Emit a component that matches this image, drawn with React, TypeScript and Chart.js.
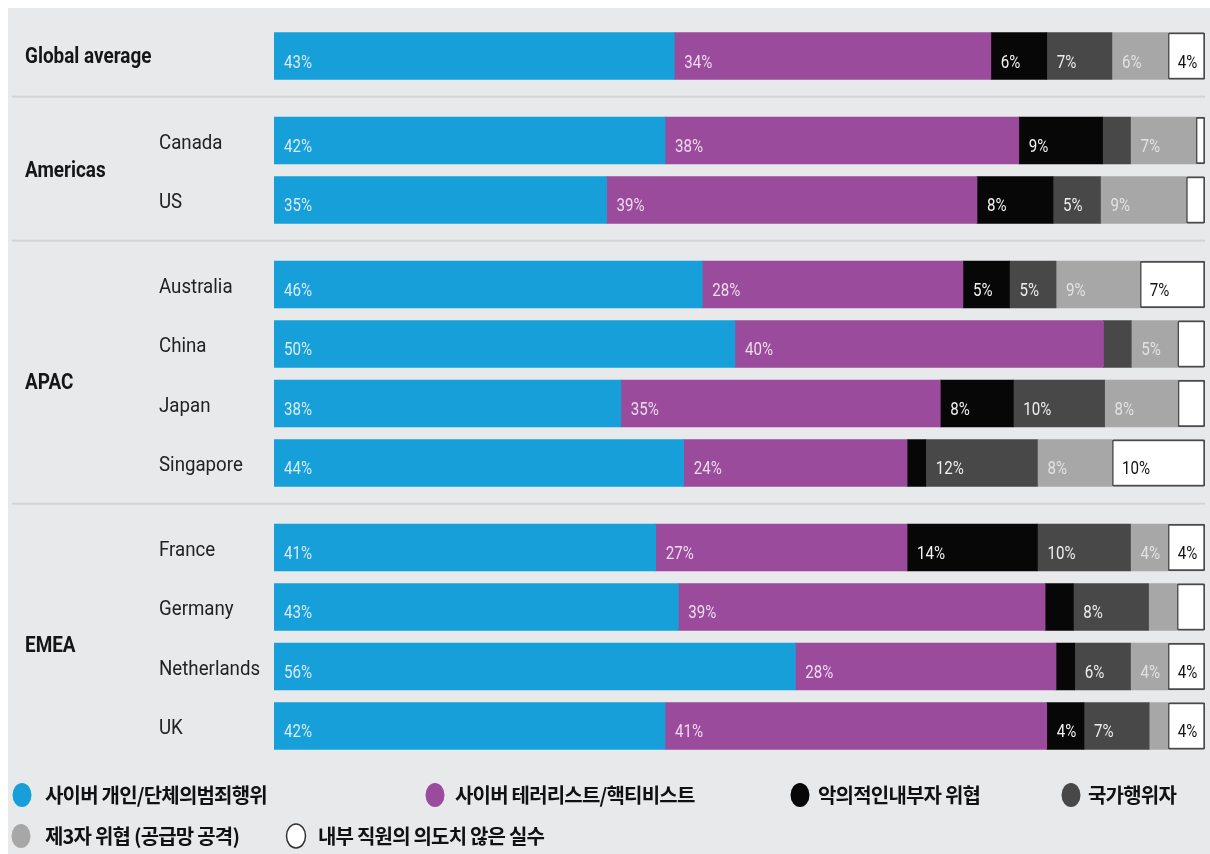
import React, { useEffect, useRef } from "react";
import { Chart, registerables } from "chart.js";

Chart.register(...registerables);

const W = 1210;
const H = 854;

const countries = ["Global average", "Canada", "US", "Australia", "China", "Japan", "Singapore", "France", "Germany", "Netherlands", "UK"];
const regions = ["Global average", "Americas", "Americas", "APAC", "APAC", "APAC", "APAC", "EMEA", "EMEA", "EMEA", "EMEA"];

const seriesNames = [
  "사이버 개인/단체의범죄행위",
  "사이버 테러리스트/핵티비스트",
  "악의적인내부자 위협",
  "국가행위자",
  "제3자 위협 (공급망 공격)",
  "내부 직원의 의도치 않은 실수",
];

const cyberCrime = [43, 42, 35, 46, 50, 38, 44, 41, 43, 56, 42];
const hacktivist = [34, 38, 39, 28, 40, 35, 24, 27, 39, 28, 41];
const insider = [6, 9, 8, 5, 0, 8, 2, 14, 3, 2, 4];
const nationState = [7, 3, 5, 5, 3, 10, 12, 10, 8, 6, 7];
const thirdParty = [6, 7, 9, 9, 5, 8, 8, 4, 3, 4, 2];
const mistake = [4, 1, 2, 7, 3, 3, 10, 4, 3, 4, 4];

const series = [cyberCrime, hacktivist, insider, nationState, thirdParty, mistake];
const colors = ["#179fda", "#9a4b9b", "#070707", "#484848", "#a7a7a7", "#ffffff"];
const labelColors = ["rgba(225,240,250,0.95)", "rgba(240,228,240,0.95)", "#f2f2f2", "#eeeeee", "#e2e2e2", "#111111"];
const LABEL_MIN = 4;

const rowTotals = countries.map((_, i) => series.reduce((s, arr) => s + arr[i], 0));

// vertical row positions: 1 unit between rows, extra gap between groups
const GROUP_GAP = 0.42;
const rowPos: number[] = [];
regions.forEach((r, i) => {
  if (i === 0) rowPos.push(0);
  else rowPos.push(rowPos[i - 1] + 1 + (r !== regions[i - 1] ? GROUP_GAP : 0));
});

const SANS = 'Roboto, "Liberation Sans", sans-serif';
const KR = '"Noto Sans CJK KR", "Noto Sans", sans-serif';

function squeezeText(ctx: CanvasRenderingContext2D, text: string, x: number, y: number, sx: number) {
  ctx.save();
  ctx.translate(x, y);
  ctx.scale(sx, 1);
  ctx.fillText(text, 0, 0);
  ctx.restore();
}

const decorPlugin = {
  id: "decor",
  beforeDraw(chart: any) {
    const ctx = chart.ctx as CanvasRenderingContext2D;
    const y = chart.scales.y;
    const area = chart.chartArea;
    ctx.save();
    ctx.fillStyle = "#ffffff";
    ctx.fillRect(0, 0, W, H);
    ctx.fillStyle = "#e8e9eb";
    ctx.fillRect(8, 8, W - 8, H - 8);
    ctx.strokeStyle = "#d3d4d6";
    ctx.lineWidth = 2;
    for (let i = 1; i < regions.length; i++) {
      if (regions[i] !== regions[i - 1]) {
        const py = (y.getPixelForValue(rowPos[i - 1]) + y.getPixelForValue(rowPos[i])) / 2 - 1.5;
        ctx.beginPath();
        ctx.moveTo(12, py);
        ctx.lineTo(area.right, py);
        ctx.stroke();
      }
    }
    ctx.restore();
  },
  afterDatasetsDraw(chart: any) {
    const ctx = chart.ctx as CanvasRenderingContext2D;
    ctx.save();
    ctx.font = `18px ${SANS}`;
    ctx.textBaseline = "middle";
    ctx.textAlign = "left";
    series.forEach((arr, d) => {
      const meta = chart.getDatasetMeta(d);
      meta.data.forEach((bar: any, i: number) => {
        const v = arr[i];
        if (v < LABEL_MIN) return;
        const left = Math.min(bar.base, bar.x);
        ctx.fillStyle = labelColors[d];
        squeezeText(ctx, `${v}%`, left + 10, bar.y + 7, 0.84);
      });
    });
    ctx.restore();
  },
  afterDraw(chart: any) {
    const ctx = chart.ctx as CanvasRenderingContext2D;
    const y = chart.scales.y;
    ctx.save();
    ctx.textBaseline = "middle";
    ctx.textAlign = "left";
    const seen: string[] = [];
    regions.forEach((r) => {
      if (seen.includes(r)) return;
      seen.push(r);
      const idx = regions.map((x, i) => (x === r ? i : -1)).filter((i) => i >= 0);
      const c = (y.getPixelForValue(rowPos[idx[0]]) + y.getPixelForValue(rowPos[idx[idx.length - 1]])) / 2;
      ctx.fillStyle = "#161616";
      ctx.font = `bold 22px ${SANS}`;
      squeezeText(ctx, r, 25, c + (idx.length > 2 ? 10 : 1), 0.86);
    });
    ctx.font = `21px ${SANS}`;
    ctx.fillStyle = "#222222";
    countries.forEach((c, i) => {
      if (c === regions[i]) return;
      squeezeText(ctx, c, 159, y.getPixelForValue(rowPos[i]) + 3, 0.89);
    });
    const items = [
      { s: 0, x: 22, tx: 45, y: 795 },
      { s: 1, x: 435, tx: 455, y: 795 },
      { s: 2, x: 800, tx: 818, y: 795 },
      { s: 3, x: 1071, tx: 1088, y: 795 },
      { s: 4, x: 21, tx: 45, y: 836 },
      { s: 5, x: 296, tx: 318, y: 836 },
    ];
    ctx.font = `bold 20px ${KR}`;
    (ctx as any).letterSpacing = "-0.8px";
    items.forEach((it) => {
      ctx.beginPath();
      ctx.ellipse(it.x, it.y, 9.5, 12, 0, 0, Math.PI * 2);
      ctx.fillStyle = colors[it.s];
      ctx.fill();
      if (it.s === 5) {
        ctx.strokeStyle = "#333";
        ctx.lineWidth = 1.5;
        ctx.stroke();
      }
      ctx.fillStyle = "#111111";
      ctx.fillText(seriesNames[it.s], it.tx, it.y);
    });
    ctx.restore();
  },
};

export default function App() {
  const ref = useRef<HTMLCanvasElement | null>(null);
  useEffect(() => {
    document.body.style.margin = "0";
    document.body.style.overflow = "hidden";
    if (!ref.current) return;
    const datasets = series.map((arr, d) => ({
      label: seriesNames[d],
      data: arr.map((v, i) => ({ x: (v * 100) / rowTotals[i], y: rowPos[i] })),
      backgroundColor: colors[d],
      borderColor: d === 5 ? "#4a4a4a" : colors[d],
      borderWidth: d === 5 ? 2 : 0,
      borderSkipped: false as any,
      borderRadius: d === 5 ? 2 : 0,
      barThickness: 47,
    }));
    const last = rowPos[rowPos.length - 1];
    const chart = new Chart(ref.current, {
      type: "bar",
      data: { datasets },
      options: {
        indexAxis: "y",
        responsive: false,
        maintainAspectRatio: false,
        devicePixelRatio: 1,
        animation: false,
        layout: { padding: { left: 274, right: 5, top: 26.25, bottom: 98.25 } },
        scales: {
          x: { type: "linear", stacked: true, min: 0, max: 100, display: false, offset: false },
          y: { type: "linear", stacked: true, min: -0.5, max: last + 0.5, reverse: true, display: false, offset: false },
        },
        plugins: { legend: { display: false }, tooltip: { enabled: false } },
      },
      plugins: [decorPlugin],
    });
    return () => chart.destroy();
  }, []);
  return (
    <div style={{ width: W, height: H, position: "relative" }}>
      <canvas ref={ref} width={W} height={H} style={{ display: "block", width: W, height: H }} />
    </div>
  );
}
